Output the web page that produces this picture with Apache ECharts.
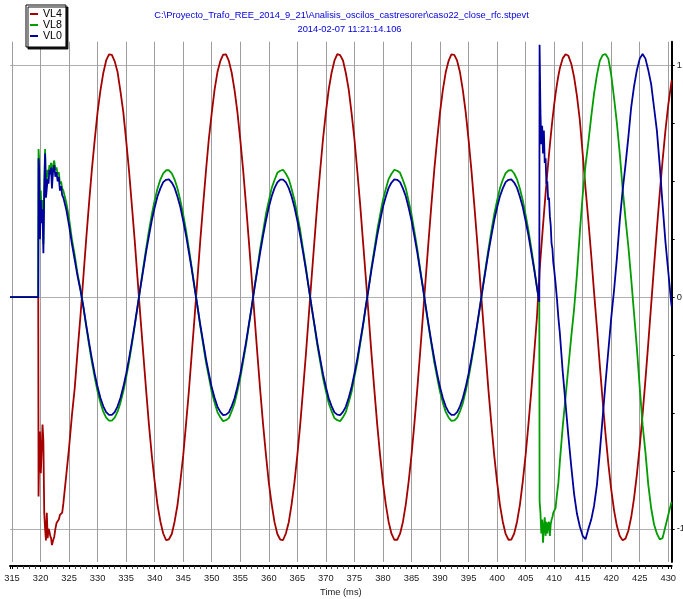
<!DOCTYPE html>
<html>
<head>
<meta charset="utf-8">
<script src="https://cdn.jsdelivr.net/npm/echarts@6/dist/echarts.min.js"></script>
<style>
  html, body { margin: 0; padding: 0; background: #fff; }
  #chart { width: 683px; height: 599px; }
</style>
</head>
<body>
<div id="chart"></div>
<script>
// Oscillography record: phase voltages (p.u.) around two switching events.

// Sample instants (ms), shared by all three channels.
const timeMs = [
  314.65, 319.6,
  319.65, 319.75, 319.9, 320.05, 320.2, 320.35, 320.5, 320.65, 320.8, 320.95,
  321.1, 321.25, 321.4, 321.55, 321.7, 321.85, 322.0, 322.2, 322.4, 322.6,
  322.8, 323.0, 323.2, 323.4, 323.6, 323.8,
  324.0, 324.5, 325.0, 325.5, 326.0, 326.5, 327.0,
  327.5, 328, 328.5, 329, 329.5, 330, 330.5, 331, 331.5, 332, 332.5, 333, 333.5, 334, 334.5, 335, 335.5, 336, 336.5, 337,
  337.5, 338, 338.5, 339, 339.5, 340, 340.5, 341, 341.5, 342, 342.5, 343, 343.5, 344, 344.5, 345, 345.5, 346, 346.5, 347,
  347.5, 348, 348.5, 349, 349.5, 350, 350.5, 351, 351.5, 352, 352.5, 353, 353.5, 354, 354.5, 355, 355.5, 356, 356.5, 357,
  357.5, 358, 358.5, 359, 359.5, 360, 360.5, 361, 361.5, 362, 362.5, 363, 363.5, 364, 364.5, 365, 365.5, 366, 366.5, 367,
  367.5, 368, 368.5, 369, 369.5, 370, 370.5, 371, 371.5, 372, 372.5, 373, 373.5, 374, 374.5, 375, 375.5, 376, 376.5, 377,
  377.5, 378, 378.5, 379, 379.5, 380, 380.5, 381, 381.5, 382, 382.5, 383, 383.5, 384, 384.5, 385, 385.5, 386, 386.5, 387,
  387.5, 388, 388.5, 389, 389.5, 390, 390.5, 391, 391.5, 392, 392.5, 393, 393.5, 394, 394.5, 395, 395.5, 396, 396.5, 397,
  397.5, 398, 398.5, 399, 399.5, 400, 400.5, 401, 401.5, 402, 402.5, 403, 403.5, 404, 404.5, 405, 405.5, 406, 406.5, 407,
  407.25, 407.4, 407.45, 407.6, 407.75, 407.9, 408.05, 408.2, 408.35, 408.5, 408.65, 408.8,
  408.95, 409.1, 409.25, 409.4, 409.55, 409.7, 409.85, 410.0, 410.25, 410.5, 410.75, 411.0,
  411.5, 412, 412.5, 413, 413.5, 414, 414.5, 415, 415.5, 416, 416.5, 417, 417.5, 418, 418.5, 419, 419.5, 420, 420.5, 421,
  421.5, 422, 422.5, 423, 423.5, 424, 424.5, 425, 425.5, 426, 426.5, 427, 427.5, 428, 428.5, 429, 429.5, 430, 430.5, 430.6
];

// VL4 (p.u.)
const vl4 = [
  0, 0,
  -0.86, -0.70, -0.58, -0.76, -0.66, -0.55, -0.62, -0.93, -1.00, -1.05,
  -0.93, -1.04, -1.00, -1.01, -1.03, -1.04, -1.07, -1.05, -1.035, -1.00,
  -0.975, -0.98, -0.96, -0.94, -0.94, -0.93,
  -0.89, -0.77, -0.65, -0.51, -0.39, -0.23, -0.08,
  0.085, 0.250, 0.405, 0.552, 0.680, 0.800, 0.893, 0.968, 1.022, 1.048, 1.046, 1.018, 0.972, 0.890, 0.800, 0.678, 0.548, 0.398, 0.246, 0.080,
  -0.084, -0.243, -0.400, -0.551, -0.684, -0.796, -0.897, -0.968, -1.020, -1.049, -1.045, -1.022, -0.968, -0.897, -0.795, -0.684, -0.546, -0.404, -0.243, -0.085,
  0.080, 0.247, 0.400, 0.548, 0.685, 0.795, 0.896, 0.972, 1.019, 1.047, 1.048, 1.020, 0.969, 0.894, 0.799, 0.680, 0.550, 0.401, 0.244, 0.083,
  -0.083, -0.246, -0.403, -0.549, -0.680, -0.800, -0.893, -0.971, -1.022, -1.046, -1.048, -1.019, -0.971, -0.893, -0.798, -0.681, -0.551, -0.400, -0.246, -0.081,
  0.084, 0.244, 0.404, 0.547, 0.683, 0.797, 0.897, 0.969, 1.021, 1.049, 1.045, 1.022, 0.968, 0.897, 0.796, 0.684, 0.547, 0.403, 0.243, 0.084,
  -0.081, -0.247, -0.401, -0.550, -0.682, -0.799, -0.894, -0.970, -1.021, -1.047, -1.047, -1.021, -0.970, -0.895, -0.797, -0.683, -0.549, -0.402, -0.245, -0.082,
  0.083, 0.245, 0.402, 0.551, 0.681, 0.798, 0.895, 0.971, 1.020, 1.048, 1.046, 1.021, 0.971, 0.894, 0.799, 0.681, 0.550, 0.401, 0.246, 0.081,
  -0.082, -0.244, -0.404, -0.548, -0.683, -0.797, -0.896, -0.969, -1.022, -1.047, -1.046, -1.020, -0.969, -0.896, -0.796, -0.682, -0.548, -0.403, -0.244, -0.082,
  0.03, 0.08, 0.115, 0.164, 0.213, 0.261, 0.309, 0.356, 0.402, 0.447, 0.491, 0.535,
  0.576, 0.617, 0.656, 0.694, 0.731, 0.766, 0.798, 0.830, 0.878, 0.920, 0.957, 0.988,
  1.031, 1.049, 1.042, 1.008, 0.950, 0.868, 0.765, 0.62, 0.47, 0.33, 0.18, 0.02, -0.132, -0.293, -0.447, -0.590, -0.719, -0.830, -0.920, -0.988,
  -1.031, -1.049, -1.042, -1.008, -0.950, -0.868, -0.765, -0.644, -0.506, -0.356, -0.197, -0.033, 0.132, 0.293, 0.447, 0.590, 0.719, 0.830, 0.920, 0.936
];

// VL8 (p.u.)
const vl8 = [
  0, 0,
  0.64, 0.60, 0.30, 0.46, 0.35, 0.42, 0.23, 0.48, 0.64, 0.47,
  0.51, 0.55, 0.53, 0.57, 0.56, 0.58, 0.51, 0.57, 0.59, 0.55,
  0.56, 0.53, 0.54, 0.49, 0.50, 0.47,
  0.46, 0.41, 0.34, 0.25, 0.18, 0.10, 0.035,
  -0.042, -0.125, -0.205, -0.280, -0.347, -0.407, -0.456, -0.494, -0.520, -0.533, -0.533, -0.520, -0.494, -0.456, -0.407, -0.347, -0.280, -0.205, -0.125, -0.042,
  0.043, 0.128, 0.210, 0.287, 0.357, 0.418, 0.469, 0.508, 0.535, 0.548, 0.548, 0.535, 0.508, 0.469, 0.418, 0.357, 0.287, 0.210, 0.128, 0.043,
  -0.040, -0.127, -0.203, -0.282, -0.345, -0.409, -0.454, -0.496, -0.518, -0.535, -0.531, -0.522, -0.492, -0.458, -0.405, -0.349, -0.278, -0.207, -0.123, -0.044,
  0.045, 0.126, 0.212, 0.285, 0.359, 0.416, 0.471, 0.506, 0.537, 0.546, 0.550, 0.533, 0.510, 0.467, 0.420, 0.355, 0.289, 0.208, 0.130, 0.041,
  -0.043, -0.123, -0.207, -0.278, -0.349, -0.405, -0.458, -0.492, -0.522, -0.531, -0.535, -0.518, -0.496, -0.454, -0.409, -0.345, -0.282, -0.203, -0.127, -0.040,
  0.041, 0.130, 0.208, 0.289, 0.355, 0.420, 0.467, 0.510, 0.533, 0.550, 0.546, 0.537, 0.506, 0.471, 0.416, 0.359, 0.285, 0.212, 0.126, 0.045,
  -0.044, -0.125, -0.205, -0.281, -0.346, -0.408, -0.455, -0.495, -0.519, -0.534, -0.532, -0.521, -0.493, -0.457, -0.406, -0.348, -0.279, -0.206, -0.124, -0.042,
  0.042, 0.129, 0.209, 0.286, 0.358, 0.417, 0.470, 0.507, 0.536, 0.547, 0.549, 0.534, 0.509, 0.468, 0.419, 0.356, 0.288, 0.211, 0.127, 0.043,
  0.0, -0.02, -0.88, -0.93, -1.02, -0.96, -1.06, -0.99, -0.95, -1.03, -0.97, -1.02,
  -0.98, -0.97, -1.03, -0.98, -0.96, -0.95, -0.93, -0.925, -0.91, -0.85, -0.80, -0.71,
  -0.56, -0.43, -0.30, -0.17, -0.05, 0.10, 0.28, 0.44, 0.57, 0.67, 0.78, 0.88, 0.96, 1.02, 1.045, 1.05, 1.03, 0.96, 0.86, 0.75,
  0.62, 0.47, 0.34, 0.22, 0.08, -0.07, -0.22, -0.39, -0.55, -0.67, -0.81, -0.91, -0.98, -1.02, -1.045, -1.04, -0.99, -0.94, -0.89, -0.885
];

// VL0 (p.u.)
const vl0 = [
  0, 0,
  0.60, 0.56, 0.25, 0.42, 0.32, 0.38, 0.19, 0.45, 0.62, 0.43,
  0.47, 0.51, 0.49, 0.55, 0.53, 0.56, 0.47, 0.55, 0.57, 0.52,
  0.54, 0.50, 0.52, 0.46, 0.48, 0.44,
  0.43, 0.38, 0.31, 0.23, 0.16, 0.09, 0.03,
  -0.040, -0.119, -0.195, -0.266, -0.331, -0.388, -0.435, -0.471, -0.496, -0.508, -0.508, -0.496, -0.471, -0.435, -0.388, -0.331, -0.266, -0.195, -0.119, -0.040,
  0.041, 0.118, 0.196, 0.265, 0.332, 0.387, 0.436, 0.470, 0.497, 0.507, 0.509, 0.495, 0.472, 0.434, 0.389, 0.330, 0.267, 0.194, 0.120, 0.039,
  -0.039, -0.120, -0.194, -0.267, -0.330, -0.389, -0.434, -0.472, -0.495, -0.509, -0.507, -0.497, -0.470, -0.436, -0.387, -0.332, -0.265, -0.196, -0.118, -0.041,
  0.040, 0.119, 0.195, 0.266, 0.331, 0.388, 0.435, 0.471, 0.496, 0.508, 0.508, 0.496, 0.471, 0.435, 0.388, 0.331, 0.266, 0.195, 0.119, 0.040,
  -0.041, -0.118, -0.196, -0.265, -0.332, -0.387, -0.436, -0.470, -0.497, -0.507, -0.509, -0.495, -0.472, -0.434, -0.389, -0.330, -0.267, -0.194, -0.120, -0.039,
  0.039, 0.120, 0.194, 0.267, 0.330, 0.389, 0.434, 0.472, 0.495, 0.509, 0.507, 0.497, 0.470, 0.436, 0.387, 0.332, 0.265, 0.196, 0.118, 0.041,
  -0.040, -0.119, -0.195, -0.266, -0.331, -0.388, -0.435, -0.471, -0.496, -0.508, -0.508, -0.496, -0.471, -0.435, -0.388, -0.331, -0.266, -0.195, -0.119, -0.040,
  0.041, 0.118, 0.196, 0.265, 0.332, 0.387, 0.436, 0.470, 0.497, 0.507, 0.509, 0.495, 0.472, 0.434, 0.389, 0.330, 0.267, 0.194, 0.120, 0.039,
  0.0, -0.02, 1.09, 0.80, 0.66, 0.74, 0.62, 0.72, 0.58, 0.60, 0.49, 0.50,
  0.42, 0.43, 0.35, 0.31, 0.23, 0.21, 0.15, 0.12, 0.06, -0.01, -0.09, -0.155,
  -0.32, -0.46, -0.60, -0.73, -0.85, -0.935, -0.99, -1.03, -1.045, -1.0, -0.96, -0.90, -0.81, -0.67, -0.52, -0.37, -0.23, -0.09, 0.03, 0.17,
  0.33, 0.46, 0.57, 0.69, 0.82, 0.91, 0.98, 1.03, 1.05, 1.03, 0.98, 0.92, 0.82, 0.72, 0.57, 0.40, 0.24, 0.11, -0.02, -0.04
];

const seriesNames = ['VL4', 'VL8', 'VL0'];
const seriesValues = [vl4, vl8, vl0];
const seriesColors = ['#a40000', '#009c00', '#00009c'];
const titleLines = [
  'C:\\Proyecto_Trafo_REE_2014_9_21\\Analisis_oscilos_castresorer\\caso22_close_rfc.stpevt',
  '2014-02-07 11:21:14.106'
];
const xAxisName = 'Time (ms)';
const yTickLabels = [-1, 0, 1];

seriesValues.forEach((v, i) => {
  if (v.length !== timeMs.length) console.warn(seriesNames[i] + ': ' + v.length + ' values for ' + timeMs.length + ' instants');
});

const fontFamily = '"Liberation Sans", Arial, Helvetica, sans-serif';
const xRange = [314.65, 430.6];
const yRange = [-1.143, 1.103];

const chart = echarts.init(document.getElementById('chart'), null, { renderer: 'canvas' });

const titleFont = '9.33px ' + fontFamily;
const option = {
  animation: false,
  backgroundColor: '#ffffff',
  textStyle: { fontFamily: fontFamily },
  grid: { left: 10, right: 11.3, top: 41.7, bottom: 37, containLabel: false, outerBoundsMode: 'none' },
  graphic: [
    { type: 'text', x: 341.5, y: 15.5, silent: true,
      style: { text: titleLines[0], font: titleFont, fill: '#0000dd',
               align: 'center', textAlign: 'center', verticalAlign: 'middle', textVerticalAlign: 'middle' } },
    { type: 'text', x: 349.5, y: 29, silent: true,
      style: { text: titleLines[1], font: titleFont, fill: '#0000dd',
               align: 'center', textAlign: 'center', verticalAlign: 'middle', textVerticalAlign: 'middle' } }
  ],
  legend: {
    data: seriesNames,
    orient: 'vertical',
    left: 26, top: 5,
    padding: [3.5, 4, 5.5, 4],
    itemGap: 0, itemWidth: 8, itemHeight: 2, icon: 'rect',
    selectedMode: false,
    backgroundColor: '#ffffff', borderColor: '#000000', borderWidth: 1,
    shadowColor: 'rgba(0,0,0,0.9)', shadowBlur: 0, shadowOffsetX: 2, shadowOffsetY: 2,
    textStyle: { fontSize: 10.67, color: '#000', lineHeight: 11, fontFamily: fontFamily }
  },
  xAxis: {
    type: 'value',
    min: xRange[0], max: xRange[1],
    minInterval: 5, maxInterval: 5,
    offset: 4,
    axisLine: { show: true, onZero: false, lineStyle: { color: '#000', width: 2 } },
    axisTick: { show: true, length: 3, lineStyle: { color: '#000', width: 1 } },
    minorTick: { show: true, splitNumber: 5, length: 3, lineStyle: { color: '#444', width: 1 } },
    axisLabel: {
      fontSize: 9.33, color: '#1a1a1a', margin: 8,
      showMinLabel: false, showMaxLabel: false,
      formatter: v => (Math.abs(v / 5 - Math.round(v / 5)) < 1e-6 ? String(Math.round(v)) : '')
    },
    splitLine: { show: true, showMinLine: false, showMaxLine: false, lineStyle: { color: '#9e9e9e', width: 1 } },
    minorSplitLine: { show: false },
    name: xAxisName, nameLocation: 'middle', nameGap: 21,
    nameTextStyle: { fontSize: 9.33, color: '#1a1a1a' }
  },
  yAxis: [
    {
      type: 'value', position: 'right',
      min: yRange[0], max: yRange[1],
      minInterval: 0.25, maxInterval: 0.25,
      axisLine: { show: true, onZero: false, lineStyle: { color: '#000', width: 2 } },
      axisTick: { show: true, length: 3, lineStyle: { color: '#000', width: 1 } },
      axisLabel: {
        fontSize: 9.33, color: '#1a1a1a', margin: 5,
        showMinLabel: false, showMaxLabel: false,
        formatter: v => {
          const hit = yTickLabels.find(l => Math.abs(v - l) < 1e-6);
          return hit === undefined ? '' : String(hit);
        }
      },
      splitLine: { show: false }
    },
    {
      // reference lines at whole per-unit values
      type: 'value', position: 'right',
      min: yRange[0], max: yRange[1],
      minInterval: 1, maxInterval: 1,
      axisLine: { show: false }, axisTick: { show: false }, axisLabel: { show: false },
      splitLine: { show: true, showMinLine: false, showMaxLine: false, lineStyle: { color: '#b0b0b0', width: 1 } }
    }
  ],
  series: seriesNames.map((name, i) => ({
    name: name,
    type: 'line',
    yAxisIndex: 0,
    data: timeMs.map((t, k) => [t, seriesValues[i][k]]),
    showSymbol: false,
    symbol: 'none',
    silent: true,
    emphasis: { disabled: true },
    lineStyle: { color: seriesColors[i], width: 1.8 },
    itemStyle: { color: seriesColors[i] }
  }))
};

chart.setOption(option);
</script>
</body>
</html>
